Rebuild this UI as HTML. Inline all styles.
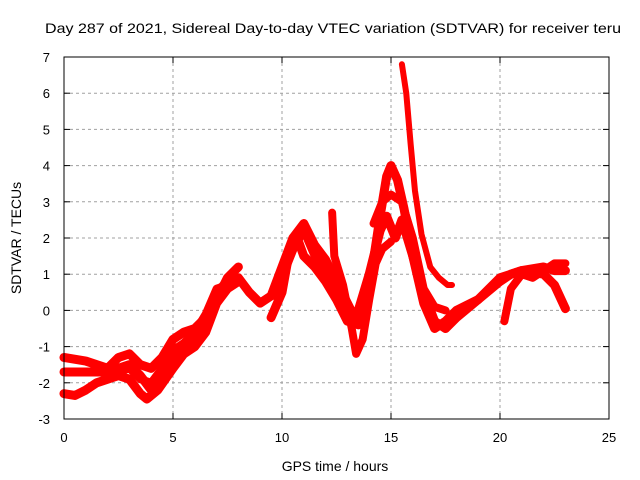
<!DOCTYPE html>
<html><head><meta charset="utf-8"><style>
body{margin:0;background:#fff}
svg{display:block;font-family:"Liberation Sans",sans-serif}
</style></head><body>
<svg id="chart" width="640" height="480" xmlns="http://www.w3.org/2000/svg">
<text x="333" y="33" font-size="14" text-anchor="middle" textLength="576" lengthAdjust="spacingAndGlyphs">Day 287 of 2021, Sidereal Day-to-day VTEC variation (SDTVAR) for receiver teru</text>
<text x="335" y="471" font-size="14" text-anchor="middle">GPS time / hours</text>
<text transform="translate(21,238) rotate(-90)" font-size="14" text-anchor="middle">SDTVAR / TECUs</text>
<g id="grid"></g><g id="series"></g><g id="axes"></g>
</svg>
<script>
const xTicks=[0,5,10,15,20,25];
const yTicks=[-3,-2,-1,0,1,2,3,4,5,6,7];
const traceA=[[0,-2.3],[0.5,-2.35],[1,-2.2],[1.5,-2.0],[2,-1.9],[2.5,-1.8],[3,-1.9],[3.5,-2.3],[3.8,-2.45],[4.3,-2.2],[5,-1.6],[5.5,-1.2],[6,-1.0],[6.5,-0.6],[7,0.2],[7.5,0.6],[8,0.8]];
const traceB=[[0,-1.3],[1,-1.4],[2,-1.6],[2.5,-1.3],[3,-1.2],[3.5,-1.5],[4,-1.6],[4.5,-1.3],[5,-0.8],[5.5,-0.6],[6,-0.5],[6.5,-0.2],[7,0.5],[7.5,0.8],[8,0.9],[8.5,0.5],[9,0.2],[9.5,0.4],[10,1.2],[10.5,2.0],[11,2.4],[11.5,1.8],[12,1.4],[12.5,0.8],[13,0.2],[13.5,-0.4],[14,0.6],[14.5,2.6],[14.8,3.7],[15,4.0],[15.3,3.6],[15.6,2.8],[16,1.5],[16.5,0.2],[17,-0.5],[17.5,-0.3],[18,0],[19,0.3],[20,0.9],[21,1.1],[22,1.2],[22.5,1.1],[23,1.1]];
const traceC=[[0,-1.7],[1,-1.7],[2,-1.7],[3,-1.5],[3.5,-1.8],[4,-2.2],[4.5,-1.9],[5,-1.3],[6,-0.8],[6.5,-0.3],[7,0.3],[7.5,0.9],[8,1.2]];
const traceD=[[15.5,6.8],[15.7,6.0],[15.9,4.6],[16.1,3.3],[16.4,2.1],[16.8,1.2],[17.2,0.9],[17.6,0.7],[17.8,0.7]];
const traceE=[[12.3,2.7],[12.4,1.5],[12.8,0.7],[13.2,-0.5],[13.4,-1.2],[13.7,-0.8],[14,0.3],[14.3,1.3],[14.6,1.7],[15,1.9]];
const traceF=[[9.5,-0.2],[10,0.5],[10.3,1.5],[10.7,2.0],[11,1.5],[11.5,1.2],[12,0.8],[12.5,0.3],[13,-0.3],[13.5,0],[14,1.0],[14.5,2.2],[14.8,2.6],[15.2,2.0],[15.5,2.5],[16,1.5],[16.5,0.5],[17,-0.3],[17.5,-0.5],[18,-0.2],[19,0.3],[20,0.8],[20.5,1.0],[21,1.1],[22,1.0],[22.5,0.7],[23,0.05]];
const traceG=[[14.2,2.4],[14.6,3.0],[15,3.2],[15.5,3.0],[16,2.0],[16.5,0.6],[17,0.1],[17.5,0.0]];
const traceH=[[20.2,-0.3],[20.5,0.6],[21,1.0],[21.5,0.9],[22,1.1],[22.5,1.3],[23,1.3]];
const traceI=[[9.8,0.3],[10.2,1.2],[10.6,1.8],[11,2.2],[11.5,1.5],[12,1.0],[12.5,0.5],[13,0],[13.5,-0.3],[14,0.4]];
const traceJ=[[2,-1.8],[3,-1.6],[3.5,-1.9],[4,-2.0],[4.5,-1.6],[5,-1.1],[5.5,-0.9],[6,-0.6],[6.5,-0.1],[7,0.6],[7.5,0.7]];
const traces=[traceA,traceB,traceC,traceD,traceE,traceF,traceG,traceH,traceI,traceJ];
const widths=[9,9,9,6,8,9,8,8,8,8];
const L=64,R=609,T=57,B=419;
const sx=v=>L+(v-0)/(25-0)*(R-L);
const sy=v=>B-(v+3)/10*(B-T);
const NS="http://www.w3.org/2000/svg";
const mk=(t,a,p)=>{const e=document.createElementNS(NS,t);for(const k in a)e.setAttribute(k,a[k]);p.appendChild(e);return e;};
const grid=document.getElementById('grid'),axes=document.getElementById('axes'),ser=document.getElementById('series');
xTicks.forEach(t=>{const x=sx(t);
 if(t>0&&t<25){const g=mk('line',{x1:x,x2:x,y1:T,y2:B,stroke:'#a0a0a0','stroke-dasharray':'3,3'},grid);
 }
 mk('line',{x1:x,x2:x,y1:B,y2:B-6,stroke:'#000'},axes);mk('line',{x1:x,x2:x,y1:T,y2:T+6,stroke:'#000'},axes);
 const l=mk('text',{x:x,y:B+23,'font-size':13,'text-anchor':'middle'},axes);l.textContent=t;
 });
yTicks.forEach(t=>{const y=sy(t);
 if(t>-3&&t<7){const g=mk('line',{x1:L,x2:R,y1:y,y2:y,stroke:'#a0a0a0','stroke-dasharray':'3,3'},grid);
 }
 mk('line',{x1:L,x2:L+6,y1:y,y2:y,stroke:'#000'},axes);mk('line',{x1:R,x2:R-6,y1:y,y2:y,stroke:'#000'},axes);
 const l=mk('text',{x:L-14,y:y+5,'font-size':13,'text-anchor':'end'},axes);l.textContent=t;
 });
const fr=mk('rect',{x:L,y:T,width:R-L,height:B-T,fill:'none',stroke:'#000'},axes);

traces.forEach((tr,i)=>{
 const p=mk('polyline',{points:tr.map(d=>sx(d[0])+','+sy(d[1])).join(' '),fill:'none',stroke:'#ff0000','stroke-width':widths[i],'stroke-linejoin':'round','stroke-linecap':'round'},ser);
 
 
});
</script>
</body></html>
